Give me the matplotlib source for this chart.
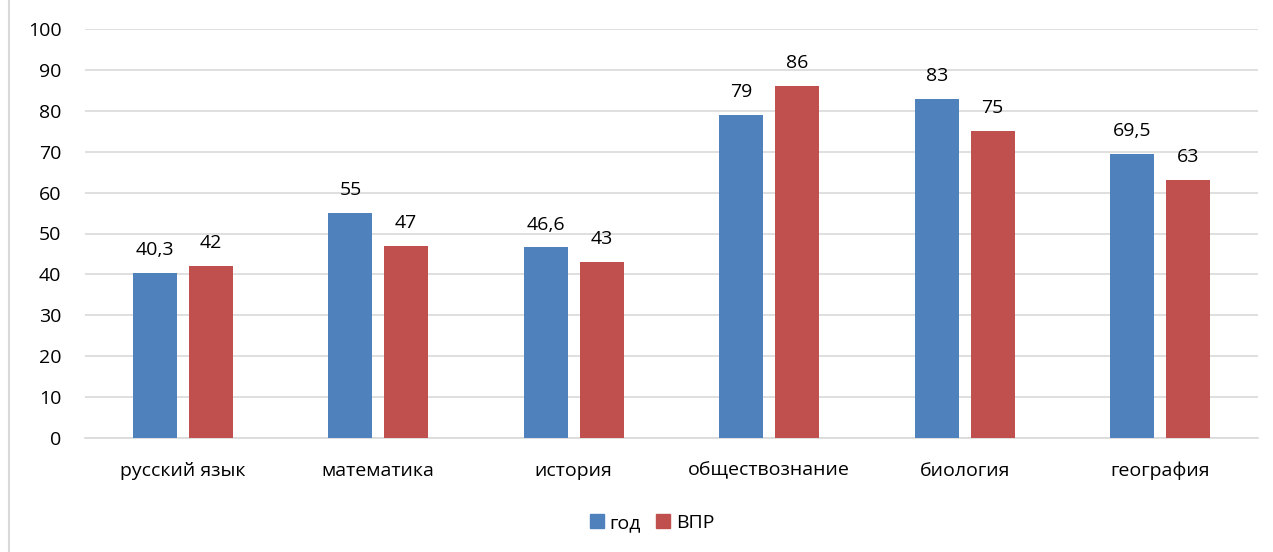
import matplotlib
matplotlib.use("Agg")
import matplotlib.pyplot as plt
import numpy as np
from matplotlib.lines import Line2D
from matplotlib.patches import Patch

categories = ["русский язык", "математика", "история", "обществознание", "биология", "география"]
god = [40.3, 55, 46.6, 79, 83, 69.5]
vpr = [42, 47, 43, 86, 75, 63]
series_names = ["год", "ВПР"]
yticks = list(range(0, 101, 10))

plt.rcParams['font.family'] = ['Open Sans', 'DejaVu Sans']

W, H = 1273, 552
fig = plt.figure(figsize=(W / 100, H / 100), dpi=100)
ax = fig.add_axes([85 / W, 1 - 438 / H, (1258 - 85) / W, (438 - 29) / H])

x = np.arange(len(categories))
bw = 0.225
off = 0.1425
blue = "#4F81BD"
red = "#C0504D"
b1 = ax.bar(x - off, god, bw, color=blue, zorder=3)
b2 = ax.bar(x + off, vpr, bw, color=red, zorder=3)

def fmt(v):
    s = f"{v:g}"
    return s.replace(".", ",")

fs = 14
for bars, vals in ((b1, god), (b2, vpr)):
    for r, v in zip(bars, vals):
        ax.annotate(fmt(v), (r.get_x() + r.get_width() / 2, v), xytext=(0, 10),
                    textcoords="offset points", ha="center", va="bottom",
                    fontsize=fs, color="#000000")

ax.set_xlim(-0.5, len(categories) - 0.5)
ax.set_ylim(0, 100)
ax.set_yticks(yticks)
ax.set_yticklabels([str(t) for t in yticks], fontsize=fs)
ax.set_xticks(x)
ax.set_xticklabels(categories, fontsize=fs)
ax.tick_params(axis="both", length=0, colors="#000000")
ax.tick_params(axis="y", pad=17)
ax.tick_params(axis="x", pad=17)
ax.yaxis.grid(True, color="#D9D9D9", linewidth=1.2, zorder=0)
ax.set_axisbelow(True)
for s in ["top", "right", "left"]:
    ax.spines[s].set_visible(False)
ax.spines["bottom"].set_color("#D9D9D9")
ax.spines["bottom"].set_linewidth(1.2)

handles = [Patch(color=blue), Patch(color=red)]
fig.legend(handles, series_names, loc="center", bbox_to_anchor=(652 / W, 1 - 523 / H),
           ncol=2, frameon=False, fontsize=fs, handlelength=0.7, handleheight=0.7,
           handletextpad=0.3, columnspacing=0.8)

fig.add_artist(Line2D([8.5 / W, 8.5 / W], [0, 1], color="#D9D9D9", linewidth=1.5))

fig.savefig("out.png", dpi=100)
